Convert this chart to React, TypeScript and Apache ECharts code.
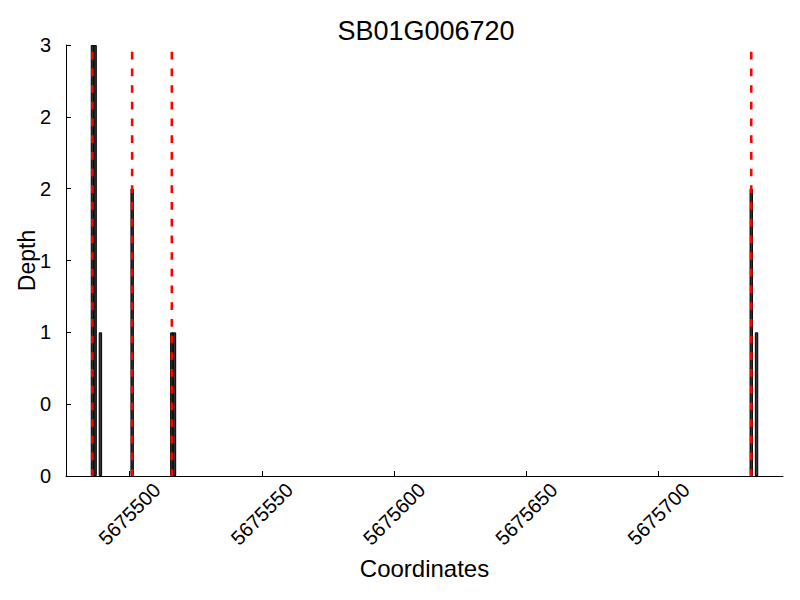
import React, { useEffect, useRef } from "react";
import * as echarts from "echarts";

const title = "SB01G006720";
const xName = "Coordinates";
const yName = "Depth";
const positions = [5675486, 5675487, 5675489, 5675501, 5675516, 5675517, 5675735, 5675737];
const depths = [3, 3, 1, 2, 1, 1, 2, 1];
const markerPositions = [5675486, 5675501, 5675516, 5675735];
const markerTop = 2.953;
const xTicks = [5675500, 5675550, 5675600, 5675650, 5675700];
const xMin = 5675476;
const xMax = 5675747;
const yMin = 0;
const yMax = 3;
const yStep = 0.5;

export default function App() {
  const ref = useRef<HTMLDivElement>(null);
  useEffect(() => {
    if (!ref.current) return;
    const chart = echarts.init(ref.current, undefined, { renderer: "svg" });
    const font = "'Liberation Sans', Arial, sans-serif";
    const markerSeries = markerPositions.map((x) => ({
      type: "line" as const,
      data: [
        [x, markerTop],
        [x, 0],
      ],
      symbol: "none",
      silent: true,
      z: 5,
      lineStyle: { color: "#ff0000", width: 2.6, type: [7.7, 9] as any },
    }));
    chart.setOption({
      animation: false,
      backgroundColor: "#ffffff",
      title: {
        text: title,
        left: 421,
        top: 12,
        textAlign: "center",
        textStyle: { fontFamily: font, fontSize: 27, fontWeight: "normal", color: "#000" },
      },
      grid: { left: 66, right: 17, top: 45, bottom: 124 },
      xAxis: {
        type: "value",
        min: xMin,
        max: xMax,
        name: xName,
        nameLocation: "middle",
        nameGap: 80,
        nameTextStyle: { fontFamily: font, fontSize: 24, color: "#000" },
        splitLine: { show: false },
        axisLine: { show: true, onZero: false, lineStyle: { color: "#000", width: 1 } },
        axisTick: { show: true, inside: true, length: 5, customValues: xTicks, lineStyle: { color: "#000" } },
        axisLabel: {
          customValues: xTicks,
          rotate: 45,
          align: "center",
          verticalAlign: "middle",
          margin: 38,
          fontFamily: font,
          fontSize: 20,
          color: "#000",
          formatter: (v: number) => String(v),
        },
      },
      yAxis: {
        type: "value",
        min: yMin,
        max: yMax,
        interval: yStep,
        name: yName,
        nameLocation: "middle",
        nameGap: 28,
        nameMoveOverlap: false,
        nameTextStyle: { fontFamily: font, fontSize: 23, color: "#000" },
        splitLine: { show: false },
        axisLine: { show: true, lineStyle: { color: "#000", width: 1 } },
        axisTick: { show: true, inside: true, length: 5, lineStyle: { color: "#000" } },
        axisLabel: {
          margin: 15,
          fontFamily: font,
          fontSize: 20,
          color: "#000",
          formatter: (v: number) => String(Math.floor(v + 1e-9)),
        },
      },
      series: [
        {
          type: "bar",
          data: positions.map((p, i) => [p, depths[i]]),
          barWidth: 3.4,
          itemStyle: { color: "#333333", borderColor: "#000", borderWidth: 1 },
          z: 2,
        },
        ...markerSeries,
      ],
    });
    return () => chart.dispose();
  }, []);
  return (
    <div
      ref={ref}
      style={{ position: "absolute", left: 0, top: 0, width: 800, height: 600 }}
    />
  );
}
